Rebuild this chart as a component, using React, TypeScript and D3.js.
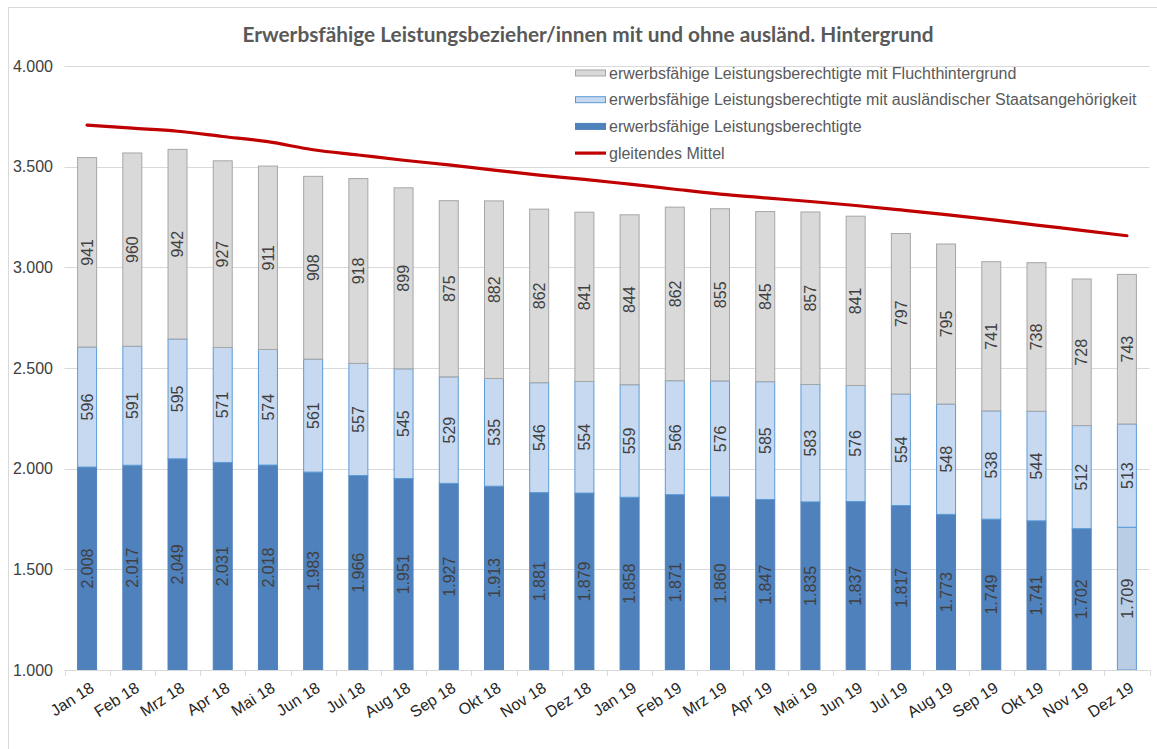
import React from "react";
import * as d3 from "d3";

const months = ["Jan 18","Feb 18","Mrz 18","Apr 18","Mai 18","Jun 18","Jul 18","Aug 18","Sep 18","Okt 18","Nov 18","Dez 18","Jan 19","Feb 19","Mrz 19","Apr 19","Mai 19","Jun 19","Jul 19","Aug 19","Sep 19","Okt 19","Nov 19","Dez 19"];
const base = [2008,2017,2049,2031,2018,1983,1966,1951,1927,1913,1881,1879,1858,1871,1860,1847,1835,1837,1817,1773,1749,1741,1702,1709];
const foreign = [596,591,595,571,574,561,557,545,529,535,546,554,559,566,576,585,583,576,554,548,538,544,512,513];
const refugee = [941,960,942,927,911,908,918,899,875,882,862,841,844,862,855,845,857,841,797,795,741,738,728,743];
const movingAvg = [3706,3691,3676,3650,3624,3584,3558,3532,3509,3483,3458,3437,3413,3388,3364,3345,3327,3307,3285,3262,3237,3210,3184,3157];
const yTicks = [1000,1500,2000,2500,3000,3500,4000];

const title = "Erwerbsfähige Leistungsbezieher/innen mit und ohne ausländ. Hintergrund";
const legendItems = [
  { label: "erwerbsfähige Leistungsberechtigte mit Fluchthintergrund", kind: "refugee" },
  { label: "erwerbsfähige Leistungsberechtigte mit ausländischer Staatsangehörigkeit", kind: "foreign" },
  { label: "erwerbsfähige Leistungsberechtigte", kind: "base" },
  { label: "gleitendes Mittel", kind: "line" },
];

const W = 1157, H = 749;
const FONT = "'Liberation Sans', Arial, sans-serif";
const locale = d3.formatLocale({ decimal: ",", thousands: ".", grouping: [3], currency: ["", "€"] });
const fmt = locale.format(",.0f");

const styles: Record<string, { fill: string; stroke: string }> = {
  base: { fill: "#4F81BD", stroke: "#4F81BD" },
  baseLast: { fill: "#B9CDE5", stroke: "#5B9BD5" },
  foreign: { fill: "#C6D9F1", stroke: "#5B9BD5" },
  refugee: { fill: "#D9D9D9", stroke: "#A6A6A6" },
};

export default function App() {
  const x = d3.scaleBand<string>().domain(months).range([64.5, 1149.5]).padding(0);
  const y = d3.scaleLinear().domain([1000, 4000]).range([670, 66]);
  const bw = x.step() * 0.42;

  const rows = months.map((m, i) => {
    const segs = [
      { key: i === months.length - 1 ? "baseLast" : "base", v0: 0, v1: base[i], val: base[i] },
      { key: "foreign", v0: base[i], v1: base[i] + foreign[i], val: foreign[i] },
      { key: "refugee", v0: base[i] + foreign[i], v1: base[i] + foreign[i] + refugee[i], val: refugee[i] },
    ];
    return { m, segs };
  });

  const line = d3
    .line<number>()
    .x((_, i) => (x(months[i]) as number) + x.step() / 2)
    .y((d) => y(d))
    .curve(d3.curveMonotoneX);

  return (
    <svg width={W} height={H} style={{ position: "fixed", left: 0, top: 0, background: "#fff" }}>
      <rect x={8.5} y={7.5} width={1170} height={780} fill="#fff" stroke="#D9D9D9" />
      <text x={588} y={42} textAnchor="middle" fontFamily="Lato, 'Open Sans', sans-serif" fontWeight={700} fontSize={20.8} fill="#595959">
        {title}
      </text>
      {yTicks.slice(1).map((t) => (
        <line key={t} x1={64.5} x2={1149.5} y1={Math.round(y(t)) + 0.5} y2={Math.round(y(t)) + 0.5} stroke="#D9D9D9" strokeWidth={1} />
      ))}
      {yTicks.map((t) => (
        <text key={t} x={53} y={y(t)} dy="0.35em" textAnchor="end" fontFamily={FONT} fontSize={16} fill="#404040">
          {fmt(t)}
        </text>
      ))}
      {rows.map((r) => {
        const cx = (x(r.m) as number) + x.step() / 2;
        return (
          <g key={r.m}>
            {r.segs.map((s) => {
              const st = styles[s.key];
              const y0 = y(1000 > s.v0 ? 1000 : s.v0);
              const y1 = y(s.v1);
              return (
                <rect key={s.key} x={cx - bw / 2} y={y1} width={bw} height={y0 - y1} fill={st.fill} stroke={st.stroke} strokeWidth={1} />
              );
            })}
            {r.segs.map((s) => {
              const lo = Math.max(1000, s.v0);
              const cy = (y(lo) + y(s.v1)) / 2;
              return (
                <text key={"t" + s.key} transform={`translate(${cx},${cy}) rotate(-90)`} textAnchor="middle" dy="0.36em" fontFamily={FONT} fontSize={16} fill="#404040">
                  {fmt(s.val)}
                </text>
              );
            })}
          </g>
        );
      })}
      <line x1={64.5} x2={1149.5} y1={670.5} y2={670.5} stroke="#D9D9D9" />
      {months.concat([""]).map((m, i) => {
        const xx = Math.round(64.5 + i * x.step()) + 0.5;
        return <line key={"tk" + i} x1={xx} x2={xx} y1={670} y2={676} stroke="#D9D9D9" />;
      })}
      {months.map((m) => {
        const cx = (x(m) as number) + x.step() / 2;
        return (
          <text key={"xl" + m} transform={`translate(${cx + 2},${681}) rotate(-33)`} textAnchor="end" dy="0.71em" fontFamily={FONT} fontSize={16} fill="#262626">
            {m}
          </text>
        );
      })}
      <path d={line(movingAvg) || ""} fill="none" stroke="#C00000" strokeWidth={3.2} strokeLinecap="round" />
      {legendItems.map((it, i) => {
        const cy = 73 + i * 26.7;
        return (
          <g key={it.kind}>
            {it.kind === "line" ? (
              <line x1={575} x2={606} y1={cy} y2={cy} stroke="#C00000" strokeWidth={3.2} />
            ) : (
              <rect x={575.5} y={cy - 3} width={30} height={6} fill={styles[it.kind].fill} stroke={styles[it.kind].stroke} />
            )}
            <text x={609} y={cy} dy="0.35em" fontFamily={FONT} fontSize={16} fill="#595959">
              {it.label}
            </text>
          </g>
        );
      })}
    </svg>
  );
}
